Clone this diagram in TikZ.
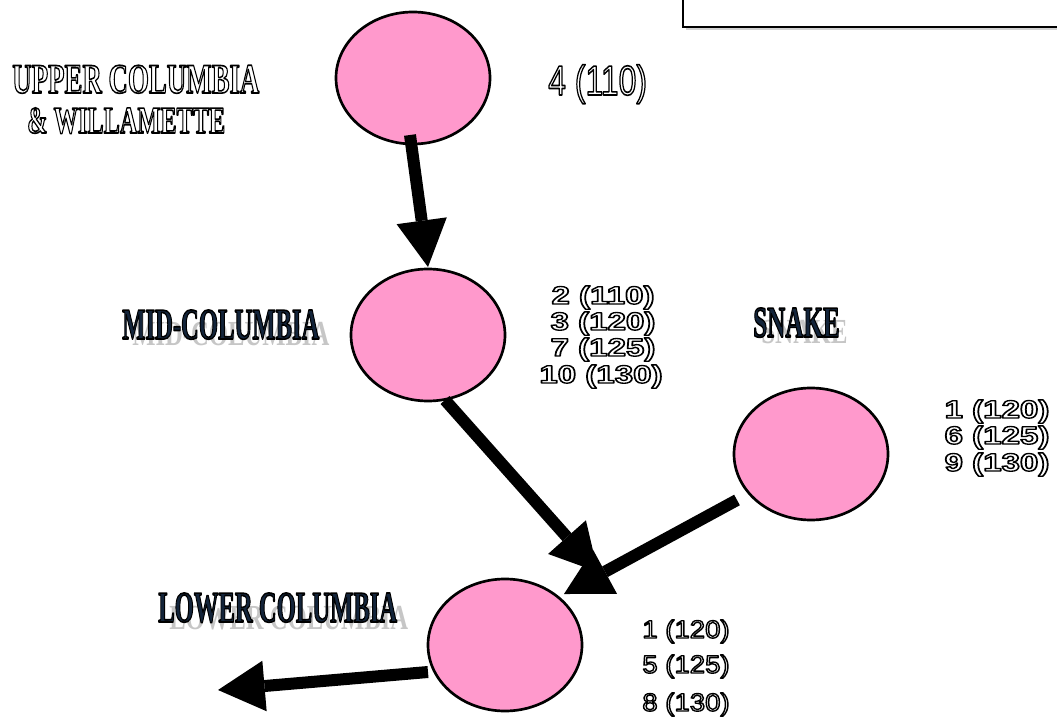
\documentclass[tikz,border=0pt]{standalone}
\usepackage{fontspec}
\setmainfont{Liberation Serif}
\newfontfamily\arial{Liberation Sans}
\usetikzlibrary{shapes.geometric,arrows.meta}
\definecolor{nodepink}{HTML}{FF99CC}
\definecolor{navy}{HTML}{13243A}
\newcommand\outl[1]{\special{pdf:literal direct 1 Tr 1.2 w 1 j}#1\special{pdf:literal direct 0 Tr}}
\newcommand\numoutl[1]{\special{pdf:literal direct 1 Tr 1.0 w 1 j}#1\special{pdf:literal direct 0 Tr}}
\newcommand\solidoutl[1]{{\color{navy}\special{pdf:literal direct 2 Tr 1.2 w 1 j 0 0 0 RG}#1\special{pdf:literal direct 0 Tr}}}
\tikzset{
  circ/.style={ellipse, draw=black, line width=2pt, fill=nodepink,
    minimum width=115.5pt, minimum height=99pt, inner sep=0pt},
  flow/.style={line width=9pt, -{Triangle[length=35pt,width=38pt,line width=0pt]}},
  lbl/.style={inner sep=0pt, anchor=base west},
  num/.style={inner sep=0pt, anchor=base},
  shadowtxt/.style={inner sep=0pt, anchor=base west, text=gray!45},
}
\newcommand\midnum[1]{\scalebox{1.32}[1]{\arial\fontsize{18.8pt}{18.8pt}\selectfont\bfseries\numoutl{#1}}}
\newcommand\lownum[1]{\scalebox{1.10}[1]{\arial\fontsize{18.8pt}{18.8pt}\selectfont\numoutl{#1}}}
\begin{document}
\begin{tikzpicture}[x=0.75pt,y=-0.75pt]
\useasboundingbox (0,0) rectangle (1057,727);
\clip (0,0) rectangle (1057,727);
% top right box
\fill[gray!35] (686,-10) rectangle (1075,30);
\draw[line width=1.5pt, fill=white] (683,-10) rectangle (1070,27);

% circles
\node[circ] (up) at (413,78) {};
\node[circ] (mid) at (428,335) {};
\node[circ] (snake) at (811,454) {};
\node[circ] (low) at (505,645) {};
\coordinate (outlet) at (218,690);

% arrows
\draw[flow] ([shift={(-3,57)}]up.center) -- ([shift={(0,-68)}]mid.center);
\draw[flow] ([shift={(17,65)}]mid.center) -- ([shift={(93,-73)}]low.center);
\draw[flow] ([shift={(-74,46)}]snake.center) -- ([shift={(59,-51)}]low.center);
\draw[flow] ([shift={(-77,27)}]low.center) -- (outlet);

% region labels
\node[lbl] (t-upper1) at (12,93) {\scalebox{0.64}[1]{\fontsize{31.5pt}{31.5pt}\selectfont\bfseries\outl{UPPER COLUMBIA}}};
\node[lbl] (t-upper2) at (27,133) {\scalebox{0.64}[1]{\fontsize{28.5pt}{28.5pt}\selectfont\bfseries\outl{\& WILLAMETTE}}};

\node[shadowtxt] (s-mid) at (132,346) {\scalebox{0.56}[0.8]{\fontsize{33pt}{33pt}\selectfont\bfseries MID-COLUMBIA}};
\node[lbl] (t-mid) at (122,339) {\scalebox{0.56}[1]{\fontsize{33pt}{33pt}\selectfont\bfseries\solidoutl{MID-COLUMBIA}}};

\node[shadowtxt] (s-snake) at (761,344) {\scalebox{0.57}[0.8]{\fontsize{33pt}{33pt}\selectfont\bfseries SNAKE}};
\node[lbl] (t-snake) at (753,337) {\scalebox{0.57}[1]{\fontsize{33pt}{33pt}\selectfont\bfseries\solidoutl{SNAKE}}};

\node[shadowtxt] (s-low) at (169,629) {\scalebox{0.56}[0.8]{\fontsize{33pt}{33pt}\selectfont\bfseries LOWER COLUMBIA}};
\node[lbl] (t-low) at (158,622) {\scalebox{0.56}[1]{\fontsize{33pt}{33pt}\selectfont\bfseries\solidoutl{LOWER COLUMBIA}}};

% numbers
\node[lbl] (n-up) at (548,95) {\scalebox{0.76}[1]{\arial\fontsize{31.5pt}{31.5pt}\selectfont\outl{4 (110)}}};

\node[num] (n-mid1) at (603,304) {\midnum{2 (110)}};
\node[num] (n-mid2) at (603,330) {\midnum{3 (120)}};
\node[num] (n-mid3) at (603,356) {\midnum{7 (125)}};
\node[num] (n-mid4) at (601,383) {\midnum{10 (130)}};

\node[num] (n-sn1) at (997,418) {\midnum{1 (120)}};
\node[num] (n-sn2) at (997,444) {\midnum{6 (125)}};
\node[num] (n-sn3) at (997,471) {\midnum{9 (130)}};

\node[num] (n-lo1) at (686,638) {\lownum{1 (120)}};
\node[num] (n-lo2) at (686,673) {\lownum{5 (125)}};
\node[num] (n-lo3) at (686,711) {\lownum{8 (130)}};
\end{tikzpicture}
\end{document}
